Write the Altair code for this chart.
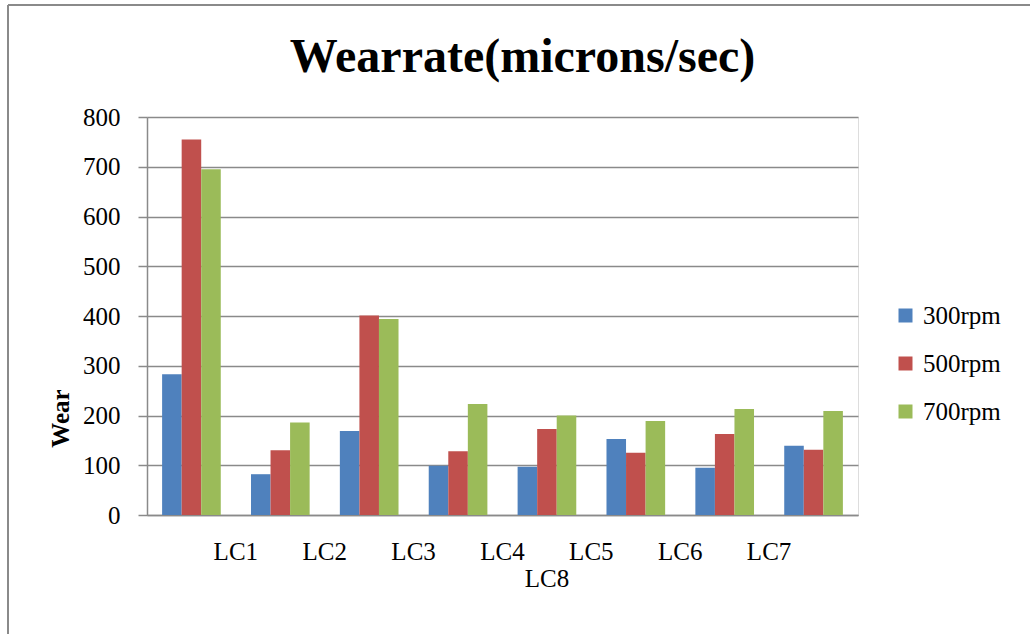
import altair as alt
import pandas as pd

# Wear rate per load case for three spindle speeds
categories = ["LC1", "LC2", "LC3", "LC4", "LC5", "LC6", "LC7", "LC8"]
series = ["300rpm", "500rpm", "700rpm"]
wear_300 = [283, 82, 169, 99, 97, 153, 95, 139]
wear_500 = [755, 130, 401, 128, 173, 125, 163, 131]
wear_700 = [695, 186, 394, 223, 200, 189, 213, 209]
colors = ["#4F81BD", "#C0504D", "#9BBB59"]
y_ticks = [0, 100, 200, 300, 400, 500, 600, 700, 800]

rows = []
for name, vals in zip(series, [wear_300, wear_500, wear_700]):
    for cat, v in zip(categories, vals):
        rows.append({"cat": cat, "series": name, "wear": v})
df = pd.DataFrame(rows)

FONT = "Liberation Serif"
GRAY = "#8a8a8a"
W, H = 711, 398
PAD = {"left": 147, "top": 117, "right": 1030 - 147 - W, "bottom": 634 - 117 - H}

x_scale = alt.Scale(domain=categories, paddingInner=0.34, paddingOuter=0.17)

bars = alt.Chart(df).mark_bar().encode(
    x=alt.X(
        "cat:N",
        scale=x_scale,
        axis=alt.Axis(
            title=None,
            labelAngle=0,
            labelOffset=44.4,
            labelPadding=24,
            ticks=False,
            labelFont=FONT,
            labelFontSize=25,
            labelColor="black",
            domainColor=GRAY,
            domainWidth=1.5,
            labelExpr="datum.value == 'LC8' ? '' : datum.value",
        ),
    ),
    xOffset=alt.XOffset("series:N", sort=series),
    y=alt.Y(
        "wear:Q",
        scale=alt.Scale(domain=[0, 800], nice=False),
        axis=alt.Axis(
            values=y_ticks,
            title="Wear",
            titleFont=FONT,
            titleFontSize=25,
            titleFontWeight="bold",
            titleColor="black",
            titleAngle=270,
            titleAlign="center",
            titleBaseline="middle",
            titleX=-87,
            titleY=301,
            labelFont=FONT,
            labelFontSize=25,
            labelColor="black",
            labelPadding=18,
            tickSize=9,
            tickColor=GRAY,
            tickWidth=1.5,
            domainColor=GRAY,
            domainWidth=1.5,
            gridColor=GRAY,
            gridWidth=1.5,
        ),
    ),
    color=alt.Color(
        "series:N",
        scale=alt.Scale(domain=series, range=colors),
        legend=alt.Legend(
            title=None,
            orient="none",
            legendX=746,
            legendY=186,
            symbolType="square",
            symbolSize=196,
            symbolStrokeWidth=0,
            labelFont=FONT,
            labelFontSize=25,
            labelColor="black",
            labelOffset=5,
            rowPadding=22,
            padding=0,
        ),
    ),
)

# the eighth label sits on a second row, under the middle of the axis
second_row = alt.Chart(pd.DataFrame({"cat": ["LC5"], "label": ["LC8"]})).mark_text(
    font=FONT, fontSize=25, color="black", baseline="alphabetic"
).encode(
    x=alt.X("cat:N", scale=x_scale),
    y=alt.value(470),
    text="label:N",
)

# outer chart frame (top and left edges)
frame_top = alt.Chart(pd.DataFrame({"k": [0]})).mark_rule(color=GRAY, strokeWidth=2).encode(
    x=alt.value(-139), x2=alt.value(W + PAD["right"]), y=alt.value(-112)
)
frame_left = alt.Chart(pd.DataFrame({"k": [0]})).mark_rule(color=GRAY, strokeWidth=2).encode(
    x=alt.value(-139), y=alt.value(-112), y2=alt.value(H + PAD["bottom"])
)

chart = alt.layer(bars, second_row, frame_top, frame_left).properties(
    width=W,
    height=H,
    padding=PAD,
    autosize=alt.AutoSizeParams(type="none"),
    title=alt.TitleParams(
        "Wearrate(microns/sec)",
        font=FONT,
        fontSize=48,
        fontWeight="bold",
        color="black",
        anchor="middle",
        baseline="alphabetic",
        dx=20,
        dy=120,
    ),
).configure_view(stroke=None).configure(background="white")

chart.save("out.html", embed_options={"renderer": "svg", "actions": False})
